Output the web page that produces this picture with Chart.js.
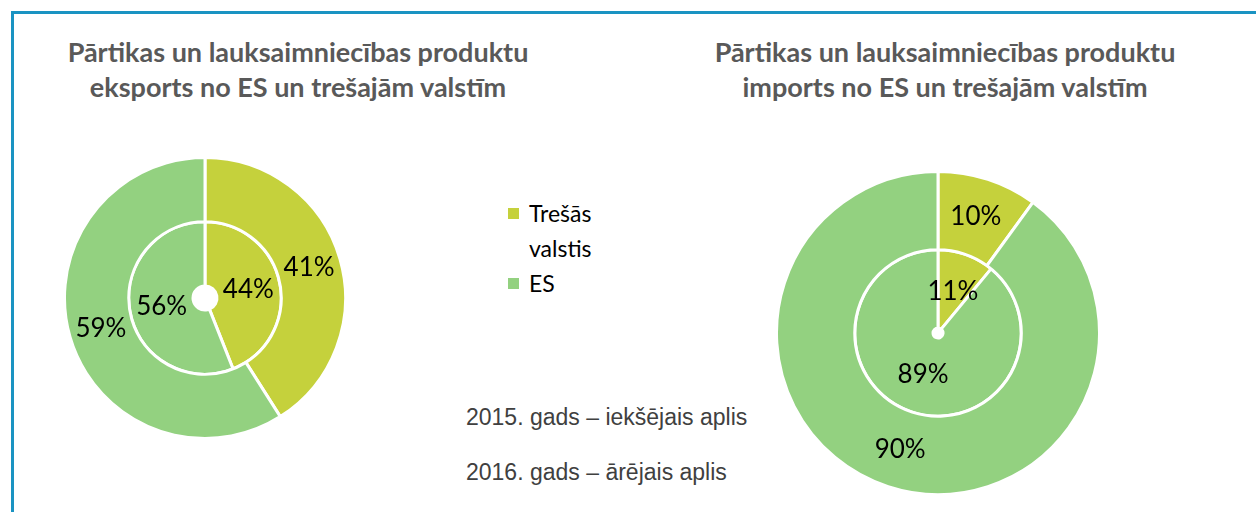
<!DOCTYPE html>
<html>
<head>
  <script src="https://cdn.jsdelivr.net/npm/chart.js"></script>
  <style>
    body { margin: 0; width: 1256px; height: 512px; background: #fff; overflow: hidden; position: relative; }
    .frame { position: absolute; left: 11px; top: 11px; width: 1300px; height: 600px;
             border-left: 3px solid #1a93c2; border-top: 3px solid #1a93c2; }
    .title { position: absolute; top: 34px; width: 600px; text-align: center;
             font-family: Lato, sans-serif; font-weight: bold; font-size: 27px; line-height: 35px; color: #595959; }
    .legend { position: absolute; left: 508px; top: 196px; font-family: Lato, sans-serif; font-size: 23px; line-height: 35px; color: #000; }
    .legend span.sw { display: inline-block; width: 11px; height: 11px; margin-right: 10px; vertical-align: 3px; }
    .note { position: absolute; left: 466px; font-family: "Liberation Sans", Arial, sans-serif; font-size: 23px; color: #404040; }
    canvas { position: absolute; }
  </style>
</head>
<body>
  <div class="frame"></div>
  <div class="title" style="left:-2px">Pārtikas un lauksaimniecības produktu<br>eksports no ES un trešajām valstīm</div>
  <div class="title" style="left:645px">Pārtikas un lauksaimniecības produktu<br>imports no ES un trešajām valstīm</div>
  <div class="legend">
    <div><span class="sw" style="background:#c5d13c"></span>Trešās</div>
    <div style="padding-left:21px">valstis</div>
    <div><span class="sw" style="background:#93d180"></span>ES</div>
  </div>
  <div class="note" style="top:404px">2015. gads – iekšējais aplis</div>
  <div class="note" style="top:459px">2016. gads – ārējais aplis</div>

  <canvas id="eksports" width="284" height="284" style="left:63px; top:156px"></canvas>
  <canvas id="imports" width="326" height="326" style="left:775px; top:170px"></canvas>

  <script>
    // dati
    const kategorijas = ['Trešās valstis', 'ES'];
    const krasas = ['#c5d13c', '#93d180'];
    const eksports2016 = [41, 59];   // ārējais aplis
    const eksports2015 = [44, 56];   // iekšējais aplis
    const imports2016 = [10, 90];
    const imports2015 = [11, 89];

    // procentu uzraksti loku centros
    const uzraksti = {
      id: 'uzraksti',
      afterDatasetsDraw(chart) {
        const ctx = chart.ctx;
        ctx.save();
        ctx.fillStyle = '#000';
        ctx.font = '26px Lato, sans-serif';
        ctx.textAlign = 'center';
        ctx.textBaseline = 'middle';
        chart.data.datasets.forEach((ds, i) => {
          chart.getDatasetMeta(i).data.forEach((arc, j) => {
            const p = arc.tooltipPosition();
            ctx.fillText(ds.data[j] + '%', p.x, p.y);
          });
        });
        ctx.restore();
      }
    };

    function aplis(id, arejais, iekshejais, cutout) {
      new Chart(document.getElementById(id), {
        type: 'doughnut',
        data: {
          labels: kategorijas,
          datasets: [
            { data: arejais, backgroundColor: krasas, borderColor: '#fff', borderWidth: 3 },
            { data: iekshejais, backgroundColor: krasas, borderColor: '#fff', borderWidth: 3 }
          ]
        },
        options: {
          responsive: false,
          animation: false,
          cutout: cutout,
          plugins: { legend: { display: false }, tooltip: { enabled: false } }
        },
        plugins: [uzraksti]
      });
    }

    aplis('eksports', eksports2016, eksports2015, 12);
    aplis('imports', imports2016, imports2015, 5);
  </script>
</body>
</html>
